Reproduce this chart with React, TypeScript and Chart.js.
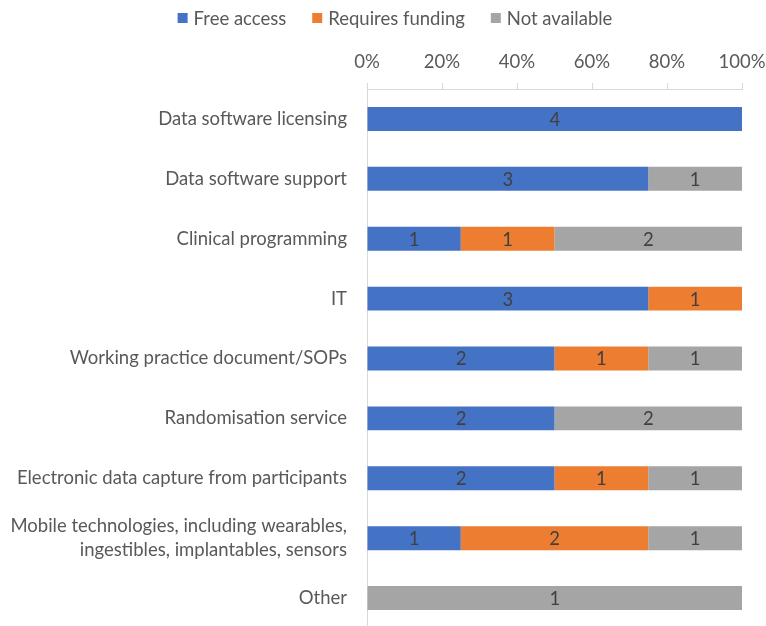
import React, { useEffect, useRef } from "react";
import { Chart, registerables } from "chart.js";

Chart.register(...registerables);

const categories: (string | string[])[] = [
  "Data software licensing",
  "Data software support",
  "Clinical programming",
  "IT",
  "Working practice document/SOPs",
  "Randomisation service",
  "Electronic data capture from participants",
  ["Mobile technologies, including wearables,", "ingestibles, implantables, sensors"],
  "Other",
];

const seriesNames = ["Free access", "Requires funding", "Not available"];
const freeAccess = [4, 3, 1, 3, 2, 2, 2, 1, 0];
const requiresFunding = [0, 0, 1, 1, 1, 0, 1, 2, 0];
const notAvailable = [0, 1, 2, 0, 1, 2, 1, 1, 1];

const xTicks = [0, 20, 40, 60, 80, 100];

const FONT = "Lato, 'Open Sans', sans-serif";
const FS = 18.5;
const TEXT = "#595959";
const AXIS = "#D9D9D9";

export default function App() {
  const ref = useRef<HTMLCanvasElement | null>(null);

  useEffect(() => {
    if (!ref.current) return;
    const totals = freeAccess.map((v, i) => v + requiresFunding[i] + notAvailable[i]);
    const pct = (arr: number[]) => arr.map((v, i) => (totals[i] ? (v / totals[i]) * 100 : 0));
    const counts = [freeAccess, requiresFunding, notAvailable];

    const labelPlugin = {
      id: "segLabels",
      afterDatasetsDraw(chart: any) {
        const ctx = chart.ctx;
        ctx.save();
        ctx.font = `${FS}px ${FONT}`;
        ctx.fillStyle = "#404040";
        ctx.textAlign = "center";
        ctx.textBaseline = "middle";
        chart.data.datasets.forEach((ds: any, di: number) => {
          const meta = chart.getDatasetMeta(di);
          meta.data.forEach((bar: any, i: number) => {
            const c = counts[di][i];
            if (!c) return;
            const { x, base, y } = bar.getProps(["x", "base", "y"], true);
            ctx.fillText(String(c), (x + base) / 2, y + 1);
          });
        });
        ctx.restore();
      },
    };

    const legendPlugin = {
      id: "customLegend",
      afterDraw(chart: any) {
        const ctx = chart.ctx;
        ctx.save();
        ctx.font = `${FS}px ${FONT}`;
        ctx.textBaseline = "middle";
        ctx.textAlign = "left";
        const box = 10;
        const gap = 6;
        const itemGap = 26;
        const ds = chart.data.datasets;
        const widths = ds.map((d: any) => box + gap + ctx.measureText(d.label).width);
        const total = widths.reduce((a: number, b: number) => a + b, 0) + itemGap * (ds.length - 1);
        let x = 395 - total / 2;
        const cy = 18;
        ds.forEach((d: any, i: number) => {
          ctx.fillStyle = d.backgroundColor;
          ctx.fillRect(x, cy - box / 2, box, box);
          ctx.fillStyle = TEXT;
          ctx.fillText(d.label, x + box + gap, cy + 1);
          x += widths[i] + itemGap;
        });
        ctx.restore();
      },
    };

    const chart = new Chart(ref.current, {
      type: "bar",
      data: {
        labels: categories,
        datasets: [
          { label: seriesNames[0], data: pct(freeAccess), backgroundColor: "#4472C4" },
          { label: seriesNames[1], data: pct(requiresFunding), backgroundColor: "#ED7D31" },
          { label: seriesNames[2], data: pct(notAvailable), backgroundColor: "#A5A5A5" },
        ],
      },
      options: {
        indexAxis: "y",
        animation: false,
        responsive: false,
        maintainAspectRatio: false,
        datasets: { bar: { barPercentage: 0.4, categoryPercentage: 1 } },
        layout: { padding: { left: 0, right: 24, top: 35, bottom: 0 } },
        plugins: {
          legend: { display: false },
          tooltip: { enabled: false },
        },
        scales: {
          x: {
            position: "top",
            stacked: true,
            min: 0,
            max: 100,
            afterBuildTicks: (s: any) => {
              s.ticks = xTicks.map((v) => ({ value: v }));
            },
            afterFit: (s: any) => {
              s.height = 54;
              s.paddingLeft = 0;
              s.paddingRight = 0;
              s.paddingTop = 0;
              s.paddingBottom = 0;
            },
            ticks: {
              color: TEXT,
              padding: 9.5,
              maxRotation: 0,
              font: { family: FONT, size: FS },
              callback: (v: any) => v + "%",
            },
            grid: {
              display: true,
              drawOnChartArea: false,
              drawTicks: true,
              tickLength: 6,
              color: AXIS,
              lineWidth: 1,
            },
            border: { display: true, color: AXIS, width: 1 },
          },
          y: {
            stacked: true,
            afterFit: (s: any) => {
              s.width = 367;
              s.paddingTop = 0;
              s.paddingBottom = 0;
              s.paddingLeft = 0;
              s.paddingRight = 0;
            },
            ticks: {
              color: TEXT,
              padding: 20,
              font: { family: FONT, size: FS, lineHeight: 1.3 },
            },
            grid: { display: false, drawTicks: false, tickLength: 0 },
            border: { display: true, color: AXIS, width: 1 },
          },
        },
      },
      plugins: [labelPlugin, legendPlugin],
    } as any);

    return () => chart.destroy();
  }, []);

  return (
    <div style={{ position: "fixed", left: 0, top: 0, width: 766, height: 628, background: "#fff" }}>
      <canvas ref={ref} width={766} height={628} style={{ width: 766, height: 628 }} />
    </div>
  );
}
